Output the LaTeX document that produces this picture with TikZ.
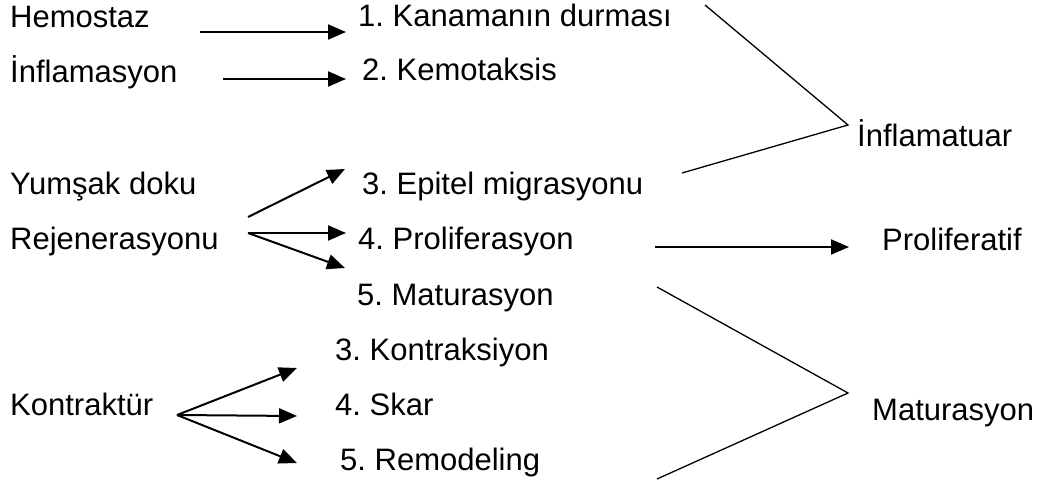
\documentclass[tikz,border=0pt]{standalone}
\usepackage{fontspec}
\setmainfont{Liberation Sans}
\usetikzlibrary{arrows.meta}
\frenchspacing
\begin{document}
\begin{tikzpicture}[x=1pt,y=-1pt,
  lbl/.style={anchor=base west,inner sep=0pt,font=\fontsize{31}{37}\selectfont\frenchspacing},
  arr/.style={line width=2pt,-{Triangle[length=18pt,width=15pt]}},
  brk/.style={line width=1.3pt}]
\useasboundingbox (0,0) rectangle (1041,481);
% left column
\node[lbl] (hem) at (10,28) {Hemostaz};
\node[lbl] (inf) at (10,83) {İnflamasyon};
\node[lbl] (yum) at (10,195) {Yumşak doku};
\node[lbl] (rej) at (10,249) {Rejenerasyonu};
\node[lbl] (kon) at (10,415) {Kontraktür};
% middle column
\node[lbl] (k1) at (358,27) {1. Kanamanın durması};
\node[lbl] (k2) at (362,81) {2. Kemotaksis};
\node[lbl] (e3) at (362,195) {3. Epitel migrasyonu};
\node[lbl] (p4) at (358,249) {4. Proliferasyon};
\node[lbl] (m5) at (357,305) {5. Maturasyon};
\node[lbl] (c3) at (335,360) {3. Kontraksiyon};
\node[lbl] (s4) at (335,415) {4. Skar};
\node[lbl] (r5) at (340,470) {5. Remodeling};
% right column
\node[lbl] (infl) at (857,147) {İnflamatuar};
\node[lbl] (prol) at (882,250) {Proliferatif};
\node[lbl] (matr) at (872,420) {Maturasyon};
% arrow end points
\coordinate (a1s) at (200,32); \coordinate (a1e) at (346,32);
\coordinate (a2s) at (223,79); \coordinate (a2e) at (346,79);
\coordinate (r3s) at (248,217); \coordinate (r3e) at (345,169);
\coordinate (r4s) at (248,233); \coordinate (r4e) at (346,233);
\coordinate (r5e) at (345,268);
\coordinate (ks) at (177,415);
\coordinate (k3e) at (297,368); \coordinate (k4e) at (297,416); \coordinate (k5e) at (297,463);
\coordinate (ps) at (655,247); \coordinate (pe) at (849,247);
\coordinate (ib1) at (705,5); \coordinate (ibt) at (848,125); \coordinate (ib2) at (682,173);
\coordinate (mb1) at (657,287); \coordinate (mbt) at (848,393); \coordinate (mb2) at (657,479);
% arrows
\draw[arr] (a1s) -- (a1e);
\draw[arr] (a2s) -- (a2e);
\draw[arr] (r3s) -- (r3e);
\draw[arr] (r4s) -- (r4e);
\draw[arr] (r4s) -- (r5e);
\draw[arr] (ks) -- (k3e);
\draw[arr] (ks) -- (k4e);
\draw[arr] (ks) -- (k5e);
\draw[arr] (ps) -- (pe);
% brackets
\draw[brk] (ib1) -- (ibt) -- (ib2);
\draw[brk] (mb1) -- (mbt) -- (mb2);
\end{tikzpicture}
\end{document}
